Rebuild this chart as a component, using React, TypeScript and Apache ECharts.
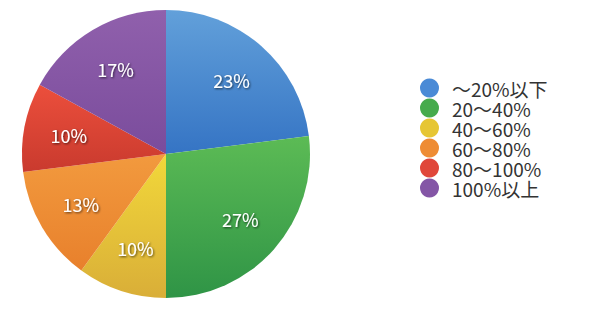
import React, { useEffect, useRef } from "react";
import * as echarts from "echarts";

const categories = ["～20%以下", "20～40%", "40～60%", "60～80%", "80～100%", "100%以上"];
const values = [23, 27, 10, 13, 10, 17];
const topColors = ["#62a0da", "#5cbb55", "#f2d83a", "#f29a3e", "#ec4f3c", "#9060ac"];
const bottomColors = ["#3574c4", "#2f9446", "#d9ae38", "#e8802c", "#c93a2e", "#7a4c9c"];
const legendColors = ["#4a8ad6", "#46ab4c", "#e6c634", "#ee8c34", "#e0473a", "#8456a6"];

export default function App() {
  const ref = useRef<HTMLDivElement>(null);
  useEffect(() => {
    if (!ref.current) return;
    const chart = echarts.init(ref.current, null, { renderer: "svg" });
    const grad = (i: number) =>
      new echarts.graphic.LinearGradient(0, 0, 0, 1, [
        { offset: 0, color: topColors[i] },
        { offset: 1, color: bottomColors[i] },
      ]);
    chart.setOption({
      animation: false,
      backgroundColor: "#ffffff",
      color: legendColors,
      legend: {
        orient: "vertical",
        left: 420,
        top: 78,
        padding: 0,
        icon: "circle",
        itemWidth: 19,
        itemHeight: 19,
        itemGap: 0,
        selectedMode: false,
        textStyle: {
          fontFamily: "'Noto Sans CJK JP', 'Noto Sans', sans-serif",
          fontSize: 19,
          lineHeight: 20,
          color: "#333333",
          padding: [0, 0, 0, 8],
        },
        data: categories.map((c, i) => ({ name: c, itemStyle: { color: legendColors[i] } })),
      },
      series: [
        {
          type: "pie",
          center: [166, 154],
          radius: [0, 144],
          startAngle: 90,
          clockwise: true,
          silent: true,
          label: { show: false },
          labelLine: { show: false },
          itemStyle: { borderWidth: 0 },
          data: categories.map((c, i) => ({
            name: c,
            value: values[i],
            itemStyle: { color: grad(i) },
          })),
        },
        {
          type: "pie",
          center: [166, 154],
          radius: [48, 144],
          startAngle: 90,
          clockwise: true,
          silent: true,
          legendHoverLink: false,
          label: {
            show: true,
            position: "inside",
            formatter: (p: any) => p.value + "%",
            color: "#ffffff",
            fontSize: 18,
            fontFamily: "'Noto Sans CJK JP', 'Noto Sans', sans-serif",
            textShadowColor: "rgba(0,0,0,0.65)",
            textShadowBlur: 2,
            textShadowOffsetX: 1,
            textShadowOffsetY: 1,
          },
          labelLine: { show: false },
          itemStyle: { color: "rgba(0,0,0,0)", borderWidth: 0 },
          data: categories.map((c, i) => ({
            name: c,
            value: values[i],
            itemStyle: { color: "rgba(0,0,0,0)" },
          })),
        },
      ],
    });
    return () => chart.dispose();
  }, []);
  return (
    <div
      ref={ref}
      style={{ position: "fixed", left: 0, top: 0, width: 600, height: 310 }}
    />
  );
}
